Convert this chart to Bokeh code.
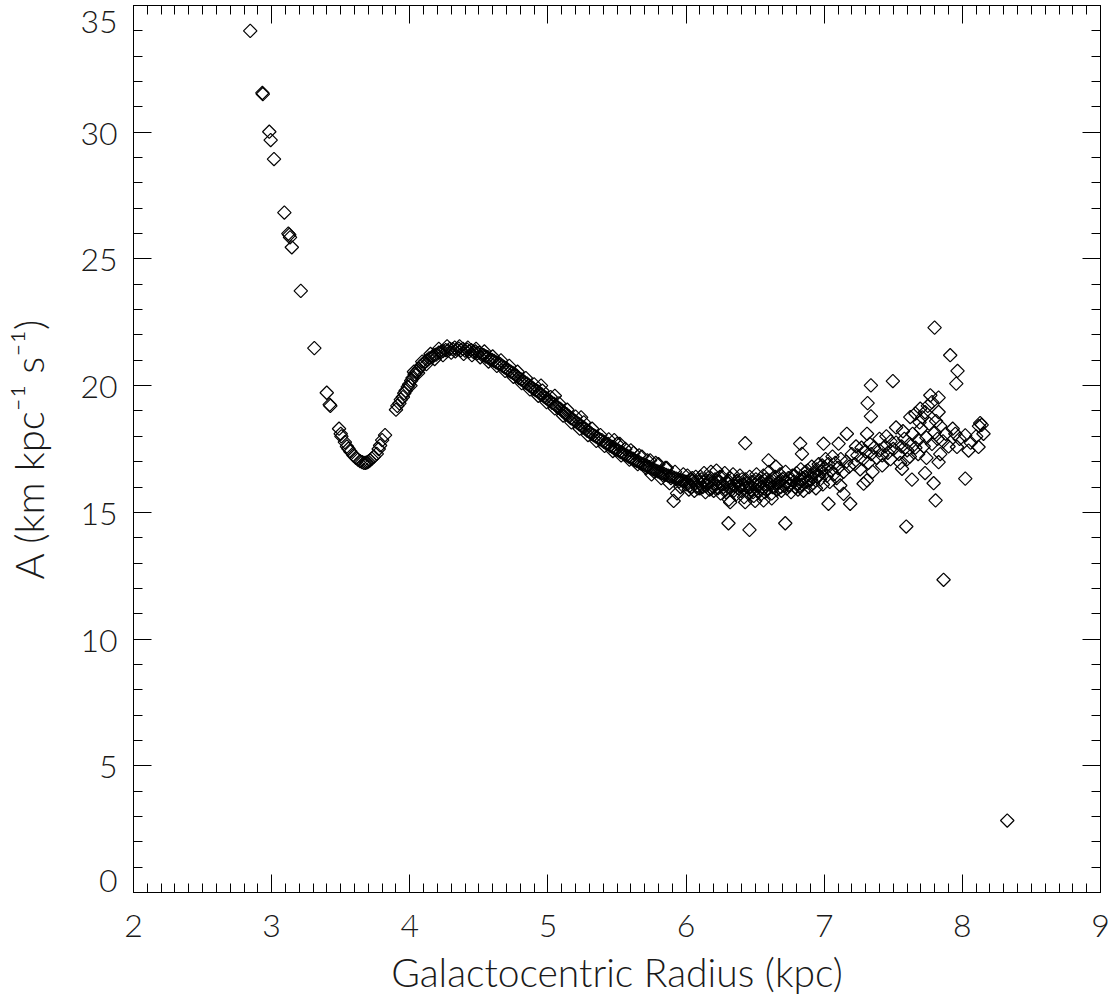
import math
from bokeh.plotting import figure
from bokeh.models import LinearAxis, FixedTicker, Range1d
from bokeh.embed import file_html
from bokeh.resources import INLINE

# ---- data (Galactocentric radius in kpc, A in km/kpc/s) ----
steep_r = [2.845, 2.933, 2.936, 2.983, 2.993, 3.017, 3.092, 3.121, 3.128, 3.133, 3.146,
           3.211, 3.309, 3.399, 3.420, 3.425, 3.488, 3.500, 3.505, 3.530, 3.545, 3.556,
           3.570, 3.592, 3.610, 3.625, 3.640, 3.655, 3.668, 3.680, 3.690, 3.700, 3.712,
           3.725, 3.740, 3.761, 3.775, 3.785, 3.800, 3.821]
steep_a = [34.0, 31.55, 31.5, 30.02, 29.69, 28.94, 26.83, 26.0, 25.95, 25.85, 25.46,
           23.74, 21.48, 19.72, 19.25, 19.2, 18.3, 18.1, 18.0, 17.77, 17.6, 17.51,
           17.4, 17.25, 17.15, 17.08, 17.02, 16.98, 16.95, 16.95, 16.97, 17.0, 17.05,
           17.12, 17.2, 17.31, 17.5, 17.64, 17.85, 18.05]

arc_r = [3.900, 3.910, 3.925, 3.935, 3.950, 3.960, 3.970, 3.985, 3.995, 4.010, 4.020,
         4.035, 4.050, 4.065, 4.080, 4.095, 4.110, 4.125, 4.140, 4.160, 4.175, 4.190,
         4.210, 4.225, 4.240, 4.260, 4.275, 4.290, 4.310, 4.325, 4.340, 4.355, 4.370,
         4.385, 4.400, 4.415, 4.430, 4.445, 4.460, 4.475, 4.490, 4.505, 4.520, 4.535,
         4.550, 4.565, 4.580, 4.595, 4.610, 4.625, 4.640, 4.655, 4.670, 4.685, 4.700,
         4.715, 4.730, 4.745, 4.760, 4.775, 4.790, 4.805, 4.820, 4.835, 4.850, 4.865,
         4.880, 4.895, 4.910, 4.925, 4.940, 4.955, 4.970, 4.985, 5.000, 5.015, 5.030,
         5.045, 5.060, 5.075, 5.090, 5.105, 5.120, 5.135, 5.150, 5.165, 5.180, 5.195,
         5.210, 5.225, 5.240, 5.255, 5.270, 5.285, 5.300, 5.315, 5.330, 5.345, 5.360,
         5.375, 5.390, 5.405, 5.420, 5.435, 5.450, 5.465, 5.480, 5.495, 5.510, 5.525,
         5.540, 5.555, 5.570, 5.585, 5.600, 5.615, 5.630, 5.645, 5.660, 5.675, 5.690,
         5.705, 5.720, 5.735, 5.750, 5.765, 5.780, 5.795, 5.810, 5.825, 5.840, 5.855,
         5.870, 5.885, 5.900, 5.915, 5.930, 5.945, 5.960, 5.975, 5.990,
         4.950, 5.050, 5.240, 5.480, 5.520, 5.600, 5.660, 5.720, 5.780, 5.850, 5.910,
         5.935, 5.960, 5.880, 5.820, 5.750,
         4.005, 4.030, 4.060, 4.090, 4.120, 4.150, 4.180, 4.210, 4.240, 4.270, 4.300,
         4.330, 4.360, 4.390, 4.420, 4.450, 4.480, 4.510, 4.540, 4.570, 4.600, 4.630,
         4.660, 4.690, 4.720, 4.750, 4.780, 4.810, 4.840, 4.870, 4.900, 4.930, 4.960,
         4.990, 5.020, 5.050, 5.080, 5.110, 5.140, 5.170, 5.200, 5.230, 5.260, 5.290,
         5.320, 5.350, 5.380, 5.410, 5.440, 5.470, 5.500, 5.530, 5.560, 5.590, 5.620,
         5.650, 5.680, 5.710, 5.740, 5.770, 5.800, 5.830, 5.860, 5.890, 5.920, 5.950,
         5.980]
arc_a = [19.05, 19.2, 19.3, 19.45, 19.55, 19.7, 19.8, 19.95, 20.05, 20.2, 20.3,
         20.45, 20.55, 20.65, 20.78, 20.85, 20.95, 21.0, 21.08, 21.12, 21.2, 21.22,
         21.3, 21.32, 21.36, 21.4, 21.38, 21.45, 21.44, 21.5, 21.42, 21.46, 21.4,
         21.45, 21.38, 21.42, 21.35, 21.4, 21.33, 21.35, 21.28, 21.3, 21.22, 21.2,
         21.15, 21.12, 21.05, 21.02, 20.98, 20.92, 20.88, 20.85, 20.78, 20.72, 20.68,
         20.6, 20.55, 20.5, 20.45, 20.38, 20.3, 20.25, 20.2, 20.12, 20.08, 20.0,
         19.95, 19.88, 19.82, 19.78, 19.7, 19.65, 19.58, 19.52, 19.45, 19.4, 19.32,
         19.28, 19.2, 19.12, 19.08, 19.0, 18.92, 18.88, 18.8, 18.72, 18.68, 18.6,
         18.55, 18.48, 18.42, 18.35, 18.3, 18.22, 18.18, 18.1, 18.05, 18.0, 17.95,
         17.88, 17.85, 17.78, 17.72, 17.7, 17.62, 17.58, 17.52, 17.48, 17.45, 17.38,
         17.35, 17.28, 17.25, 17.2, 17.15, 17.12, 17.05, 17.02, 16.98, 16.92, 16.9,
         16.85, 16.82, 16.78, 16.72, 16.7, 16.65, 16.62, 16.58, 16.55, 16.52, 16.48,
         16.45, 16.42, 16.4, 16.36, 16.33, 16.3, 16.28, 16.25, 16.22,
         20.0, 19.6, 18.75, 17.85, 17.7, 17.45, 17.25, 17.05, 16.95, 16.75, 15.45,
         15.75, 16.0, 16.15, 16.35, 16.5,
         20.0, 20.55, 20.5, 20.95, 20.85, 21.25, 21.05, 21.45, 21.2, 21.55, 21.3,
         21.35, 21.55, 21.25, 21.5, 21.2, 21.45, 21.12, 21.35, 20.95, 21.15, 20.78,
         21.0, 20.58, 20.78, 20.35, 20.55, 20.1, 20.3, 19.85, 20.05, 19.6, 19.8,
         19.35, 19.55, 19.1, 19.3, 18.82, 19.05, 18.55, 18.78, 18.3, 18.55, 18.05,
         18.3, 17.82, 18.05, 17.62, 17.88, 17.42, 17.7, 17.25, 17.5, 17.08, 17.35,
         16.9, 17.2, 16.75, 17.05, 16.6, 16.9, 16.48, 16.75, 16.35, 16.6, 16.22,
         16.5]

band_r = [6.00, 6.01, 6.02, 6.03, 6.04, 6.05, 6.06, 6.07, 6.08, 6.09, 6.10, 6.11, 6.12,
          6.13, 6.14, 6.15, 6.16, 6.17, 6.18, 6.19, 6.20, 6.21, 6.22, 6.23, 6.24, 6.25,
          6.26, 6.27, 6.28, 6.29, 6.30, 6.31, 6.32, 6.33, 6.34, 6.35, 6.36, 6.37, 6.38,
          6.39, 6.40, 6.41, 6.42, 6.43, 6.44, 6.45, 6.46, 6.47, 6.48, 6.49, 6.50, 6.51,
          6.52, 6.53, 6.54, 6.55, 6.56, 6.57, 6.58, 6.59, 6.60, 6.61, 6.62, 6.63, 6.64,
          6.65, 6.66, 6.67, 6.68, 6.69, 6.70, 6.71, 6.72, 6.73, 6.74, 6.75, 6.76, 6.77,
          6.78, 6.79, 6.80, 6.81, 6.82, 6.83, 6.84, 6.85, 6.86, 6.87, 6.88, 6.89, 6.90,
          6.91, 6.92, 6.93, 6.94, 6.95, 6.96, 6.97, 6.98, 6.99, 7.00, 7.01, 7.02, 7.03,
          7.04, 7.05, 7.06, 7.07, 7.08, 7.09, 7.10, 7.12, 7.14, 7.16, 7.18, 7.20,
          6.005, 6.025, 6.045, 6.065, 6.085, 6.105, 6.125, 6.145, 6.165, 6.185, 6.205,
          6.225, 6.245, 6.265, 6.285, 6.305, 6.325, 6.345, 6.365, 6.385, 6.405, 6.425,
          6.445, 6.465, 6.485, 6.505, 6.525, 6.545, 6.565, 6.585, 6.605, 6.625, 6.645,
          6.665, 6.685, 6.705, 6.725, 6.745, 6.765, 6.785, 6.805, 6.825, 6.845, 6.865,
          6.885, 6.905, 6.925, 6.945, 6.965, 6.985]
band_a = [16.1, 16.45, 15.9, 16.3, 16.0, 16.25, 15.85, 16.4, 16.05, 16.2, 15.95, 16.3, 16.0,
          16.55, 15.8, 16.15, 16.35, 15.9, 16.6, 16.05, 15.85, 16.3, 16.65, 15.95, 16.2, 15.75,
          16.4, 16.0, 16.55, 15.8, 16.15, 15.5, 16.35, 15.9, 16.5, 16.05, 15.7, 16.25, 15.95,
          16.45, 15.85, 16.1, 15.6, 16.3, 16.0, 15.75, 16.4, 15.9, 16.2, 15.65, 16.1, 16.5,
          15.85, 16.25, 15.7, 16.0, 16.45, 15.8, 16.3, 15.95, 16.6, 16.1, 15.75, 16.35, 16.0,
          16.8, 15.9, 16.2, 16.5, 15.85, 16.3, 16.05, 16.6, 15.95, 16.35, 16.1, 15.8, 16.45,
          16.2, 16.0, 16.55, 15.9, 16.3, 16.7, 16.1, 15.85, 16.4, 16.2, 16.65, 16.0, 16.45,
          16.8, 16.15, 16.55, 15.95, 16.4, 16.9, 16.3, 16.6, 16.1, 16.75, 17.1, 16.45, 16.9,
          16.2, 16.65, 17.2, 16.5, 16.95, 16.35, 16.75, 17.1, 16.6, 17.0, 16.8, 17.3,
          16.2, 16.05, 16.35, 16.15, 15.95, 16.4, 16.2, 16.05, 16.25, 15.95, 16.15,
          16.0, 16.4, 16.1, 15.9, 16.25, 16.05, 15.85, 16.2, 16.05, 16.3, 15.95,
          16.15, 16.0, 15.8, 16.3, 16.05, 16.2, 15.95, 16.1, 16.25, 16.0, 16.4,
          16.15, 16.0, 16.35, 16.2, 16.05, 16.3, 16.45, 16.15, 16.05, 16.35, 16.6,
          16.25, 16.3, 16.5, 16.7, 16.45, 16.85]

outer_r = [6.307, 6.459, 6.718, 7.031, 7.188, 6.319, 6.428, 6.561, 7.116, 7.140, 6.428,
           6.826, 6.995, 7.104, 6.839, 6.597, 7.164, 6.620, 6.500,
           7.285, 7.309, 7.338, 7.497, 7.314, 7.338, 7.768, 7.828, 7.695, 7.828, 7.623,
           8.129, 8.153, 8.117, 8.021, 7.949, 8.045, 7.961, 8.021, 7.806, 7.792, 7.828,
           7.730, 7.635, 7.594, 7.563, 7.799, 7.912, 7.965, 7.956, 7.864, 8.325, 8.140,
           8.120,
           7.22, 7.24, 7.26, 7.28, 7.30, 7.32, 7.34, 7.36, 7.38, 7.40, 7.42, 7.44, 7.46,
           7.48, 7.50, 7.52, 7.54, 7.56, 7.58, 7.60, 7.62, 7.64, 7.66, 7.68, 7.70, 7.72,
           7.74, 7.76, 7.78, 7.80, 7.82, 7.84, 7.86, 7.88, 7.71, 7.75, 7.78, 7.73, 7.69,
           7.66, 7.81, 7.57, 7.52, 7.45, 7.40, 7.33, 7.27, 7.23, 7.35, 7.42, 7.55, 7.62,
           7.68, 7.74, 7.84, 7.90, 7.93, 7.98, 8.06, 8.10, 7.60, 7.48, 7.31]
outer_a = [14.57, 14.31, 14.57, 15.34, 15.34, 15.4, 15.4, 15.47, 16.06, 15.73, 17.73,
           17.71, 17.71, 17.71, 17.31, 17.05, 18.1, 15.55, 15.45,
           16.13, 16.26, 20.01, 20.18, 19.31, 18.79, 19.62, 19.53, 19.09, 18.96, 18.76,
           18.52, 18.1, 17.58, 18.04, 18.1, 17.44, 17.58, 16.33, 15.47, 16.15, 16.98,
           16.55, 16.29, 14.44, 16.72, 22.29, 21.2, 20.58, 20.08, 12.34, 2.84, 18.45,
           18.4,
           16.9, 17.25, 16.7, 17.1, 17.4, 16.95, 17.3, 17.55, 17.15, 17.45, 17.25, 17.6, 17.35,
           17.1, 17.5, 17.75, 17.3, 17.6, 17.9, 17.45, 17.7, 18.1, 17.55, 17.85, 18.3, 17.6,
           17.95, 18.5, 17.7, 18.15, 17.9, 18.4, 17.8, 18.1, 18.75, 19.2, 19.35, 18.95, 18.55,
           18.9, 18.6, 18.2, 18.35, 18.0, 17.9, 17.7, 17.55, 17.6, 16.6, 16.85, 16.95, 17.2,
           17.3, 17.15, 17.3, 17.6, 18.3, 17.9, 17.75, 18.0, 17.1, 17.8, 18.1]

x_major = [2, 3, 4, 5, 6, 7, 8, 9]
y_major = [0, 5, 10, 15, 20, 25, 30, 35]
x_label = "Galactocentric Radius (kpc)"
y_label = "A (km kpc\u207b\u00b9 s\u207b\u00b9)"

radius = steep_r + arc_r + band_r + outer_r
a_val = steep_a + arc_a + band_a + outer_a

FONT = "Lato Light"
TXT = "#1a1a1a"
TICK_PX = "32px"

x_minor = [x_major[0] + i / 10 for i in range(1, 10 * (x_major[-1] - x_major[0]))]
y_minor = [v for v in range(y_major[0] + 1, y_major[-1])]

p = figure(width=1110, height=1000, x_range=Range1d(x_major[0], x_major[-1]),
           y_range=Range1d(y_major[0], y_major[-1]),
           output_backend="svg", toolbar_location=None,
           min_border_left=133, min_border_right=10, min_border_top=5,
           min_border_bottom=108, x_axis_label=x_label, y_axis_label=y_label)
p.background_fill_color = "white"
p.border_fill_color = "white"
p.outline_line_color = "black"
p.outline_line_width = 1
p.xgrid.grid_line_color = None
p.ygrid.grid_line_color = None


def style(ax, labels=True):
    ax.axis_line_color = "black"
    ax.axis_line_width = 1
    ax.major_tick_in = 18
    ax.major_tick_out = 0
    ax.minor_tick_in = 9
    ax.minor_tick_out = 0
    ax.major_tick_line_color = "black"
    ax.minor_tick_line_color = "black"
    ax.major_tick_line_width = 1
    ax.minor_tick_line_width = 1
    if labels:
        ax.major_label_text_font = FONT
        ax.major_label_text_font_size = TICK_PX
        ax.major_label_text_color = TXT
        ax.axis_label_text_font = FONT
        ax.axis_label_text_font_style = "normal"
        ax.axis_label_text_color = TXT
    else:
        ax.major_label_text_font_size = "1px"
        ax.major_label_text_color = None
        ax.major_label_standoff = 0
        ax.axis_label = None


p.xaxis.ticker = FixedTicker(ticks=x_major, minor_ticks=x_minor)
p.yaxis.ticker = FixedTicker(ticks=y_major, minor_ticks=y_minor)
style(p.xaxis[0])
style(p.yaxis[0])
p.xaxis.axis_label_text_font_size = "39px"
p.yaxis.axis_label_text_font_size = "40px"
# the bottom label sits just above the frame edge, as in the reference
p.yaxis.major_label_overrides = {y_major[0]: str(y_major[0]) + "\n "}
p.yaxis.major_label_text_line_height = 0.65
p.xaxis.major_label_standoff = 22
p.xaxis.axis_label_standoff = 9
p.yaxis.major_label_standoff = 16
p.yaxis.axis_label_standoff = 24

top = LinearAxis(ticker=FixedTicker(ticks=x_major, minor_ticks=x_minor))
right = LinearAxis(ticker=FixedTicker(ticks=y_major, minor_ticks=y_minor))
style(top, labels=False)
style(right, labels=False)
p.add_layout(top, "above")
p.add_layout(right, "right")

p.scatter(radius, a_val, marker="square", angle=math.pi / 4, size=9.5,
          fill_color=None, line_color="black", line_width=1.2)

open("out.html", "w").write(file_html(p, INLINE))
